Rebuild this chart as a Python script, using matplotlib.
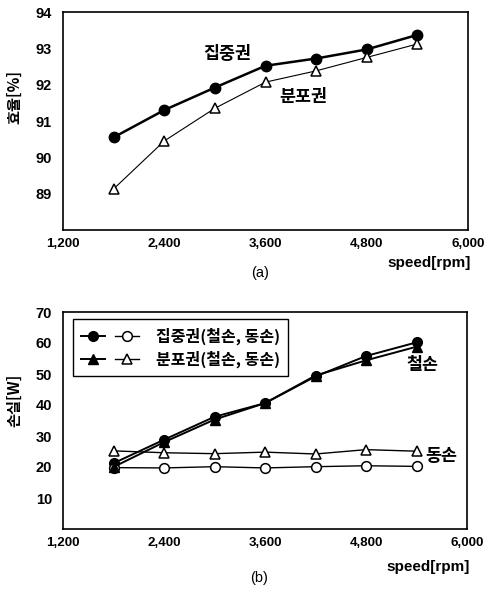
import matplotlib
matplotlib.use("Agg")
import matplotlib.pyplot as plt
from matplotlib.legend_handler import HandlerTuple

plt.rcParams['font.family'] = ['Liberation Sans', 'Noto Sans CJK KR', 'DejaVu Sans']

speed = [1800, 2400, 3000, 3600, 4200, 4800, 5400]

# (a) efficiency [%]
eff_concentrated = [90.55, 91.3, 91.92, 92.52, 92.72, 92.97, 93.37]
eff_distributed = [89.13, 90.45, 91.35, 92.07, 92.38, 92.75, 93.12]

# (b) losses [W]
iron_concentrated = [21.2, 28.8, 36.2, 40.6, 49.2, 55.8, 60.2]
iron_distributed = [20.0, 28.0, 35.3, 40.6, 49.5, 54.4, 58.8]
copper_concentrated = [19.8, 19.7, 20.1, 19.7, 20.1, 20.4, 20.2]
copper_distributed = [25.2, 24.6, 24.3, 24.8, 24.2, 25.6, 25.1]

xticks = [1200, 2400, 3600, 4800, 6000]
xticklabels = ["1,200", "2,400", "3,600", "4,800", "6,000"]
yticks_a = [89, 90, 91, 92, 93, 94]
yticks_b = [10, 20, 30, 40, 50, 60, 70]

label_conc = "집중권"
label_dist = "분포권"
legend_conc = "집중권(철손, 동손)"
legend_dist = "분포권(철손, 동손)"

W, H = 484, 590
fig = plt.figure(figsize=(W / 100, H / 100), dpi=100)

def px_axes(l, t, r, b):
    return fig.add_axes([l / W, 1 - b / H, (r - l) / W, (b - t) / H])

ax1 = px_axes(63, 12, 468, 230)
ax2 = px_axes(63, 312, 467, 529)

kfont = dict(family=['Noto Sans CJK KR', 'DejaVu Sans'], fontweight='bold')

def style(ax, yticks, ylim):
    ax.set_xlim(1200, 6000)
    ax.set_ylim(*ylim)
    ax.set_xticks(xticks)
    ax.set_xticklabels(xticklabels, fontsize=9.6, fontweight='bold')
    ax.set_yticks(yticks)
    ax.set_yticklabels([str(v) for v in yticks], fontsize=10.5, fontweight='bold')
    ax.tick_params(length=0)
    ax.tick_params(axis='x', pad=6)
    ax.tick_params(axis='y', pad=8)
    for s in ax.spines.values():
        s.set_linewidth(1.2)
        s.set_color('black')

style(ax1, yticks_a, (88, 94))
style(ax2, yticks_b, (0, 70))

# ---- (a)
ax1.plot(speed, eff_concentrated, '-', color='black', lw=1.8, marker='o',
         ms=7.5, mfc='black', mec='black', zorder=3)
ax1.plot(speed, eff_distributed, '-', color='black', lw=0.8, marker='^',
         ms=7.5, mfc='white', mec='black', mew=1.1, zorder=3)
ax1.text(3150, 92.85, label_conc, fontsize=12.5, ha='center', va='center', **kfont)
ax1.text(4050, 91.65, label_dist, fontsize=12.5, ha='center', va='center', **kfont)
ax1.set_ylabel("효율[%]", fontsize=11, **kfont)
ax1.yaxis.set_label_coords(-0.101, 0.61)
ax1.text(0.905, -0.152, "speed[rpm]", transform=ax1.transAxes, ha='center',
         va='center', fontsize=11, fontweight='bold')
ax1.text(0.486, -0.197, "(a)", transform=ax1.transAxes, ha='center',
         va='center', fontsize=10.5)

# ---- (b)
h1, = ax2.plot(speed, iron_concentrated, '-', color='black', lw=1.4, marker='o',
               ms=7, mfc='black', mec='black', zorder=3)
h2, = ax2.plot(speed, copper_concentrated, '-', color='black', lw=1.0, marker='o',
               ms=7, mfc='white', mec='black', mew=1.1, zorder=3)
h3, = ax2.plot(speed, iron_distributed, '-', color='black', lw=1.4, marker='^',
               ms=7, mfc='black', mec='black', zorder=3)
h4, = ax2.plot(speed, copper_distributed, '-', color='black', lw=1.0, marker='^',
               ms=7, mfc='white', mec='black', mew=1.1, zorder=3)
ax2.text(5470, 53, "철손", fontsize=12.5, ha='center', va='center', **kfont)
ax2.text(5700, 23.4, "동손", fontsize=12.5, ha='center', va='center', **kfont)
ax2.set_ylabel("손실[W]", fontsize=11, **kfont)
ax2.yaxis.set_label_coords(-0.101, 0.594)
ax2.text(0.905, -0.175, "speed[rpm]", transform=ax2.transAxes, ha='center',
         va='center', fontsize=11, fontweight='bold')
ax2.text(0.486, -0.225, "(b)", transform=ax2.transAxes, ha='center',
         va='center', fontsize=10.5)

leg = ax2.legend([(h1, h2), (h3, h4)], [legend_conc, legend_dist],
                 handler_map={tuple: HandlerTuple(ndivide=None, pad=0.6)},
                 loc='upper left', bbox_to_anchor=(0.025, 0.966),
                 borderaxespad=0, handlelength=3.6, fancybox=False,
                 framealpha=1, edgecolor='black', labelspacing=0.35,
                 borderpad=0.5, handletextpad=1.1,
                 prop=dict(family=['Noto Sans CJK KR', 'DejaVu Sans'],
                           weight='bold', size=11.5))
leg.get_frame().set_linewidth(1.0)

fig.savefig("out.png", dpi=100)
